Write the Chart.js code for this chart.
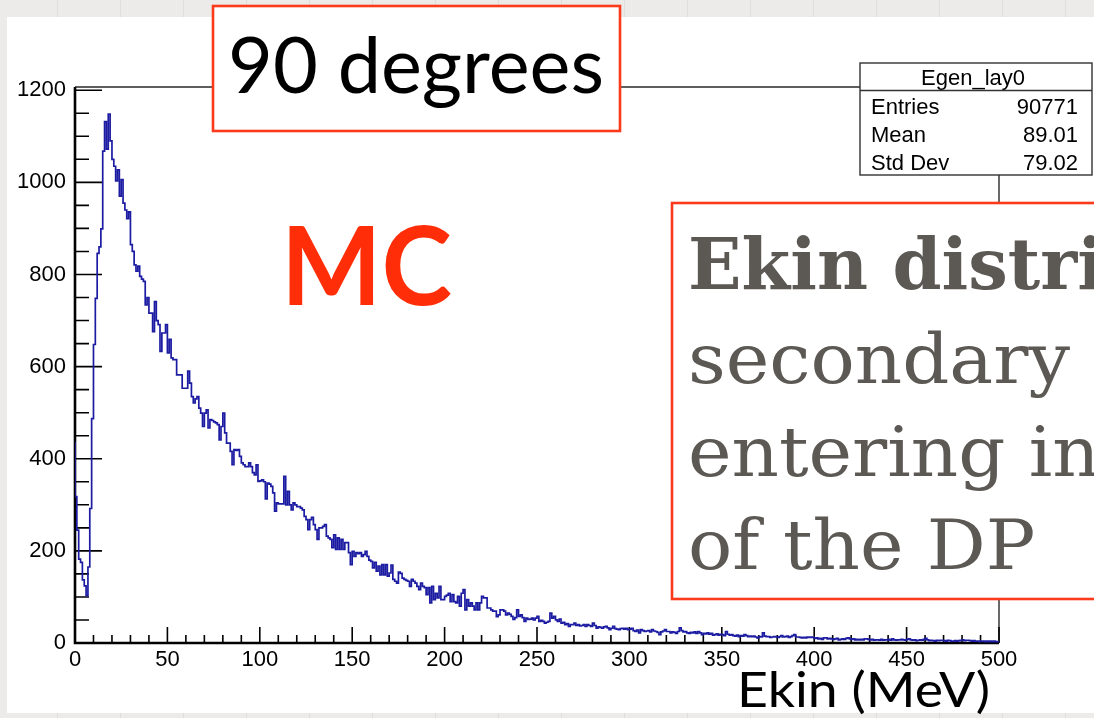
<!DOCTYPE html>
<html>
<head>
    <title>Egen_lay0</title>
    <style>
        html, body {
            margin: 0;
            padding: 0;
            background-color: #ecebe9;
        }
        canvas {
            display: block;
        }
    </style>
</head>
<body>
    <canvas id="histCanvas" width="1094" height="718"></canvas>

    <script src="https://cdn.jsdelivr.net/npm/chart.js"></script>
    <script>
        // Ekin spectrum, 1 MeV bins from 0 to 500 MeV
        const counts = [
            437, 318, 245, 182, 175, 137, 124, 103, 165, 292,
            487, 648, 748, 846, 860, 899, 1068, 1132, 1072, 1148,
            1090, 1050, 1035, 1003, 1027, 970, 1006, 955, 940, 921,
            936, 865, 850, 821, 807, 818, 796, 790, 785, 734,
            750, 716, 716, 676, 741, 700, 691, 633, 673, 673,
            691, 630, 659, 619, 615, 615, 582, 582, 582, 553,
            553, 553, 590, 564, 535, 521, 530, 535, 510, 499,
            470, 499, 506, 467, 485, 483, 480, 478, 474, 441,
            470, 499, 456, 434, 434, 416, 387, 420, 418, 420,
            405, 391, 387, 383, 383, 391, 383, 370, 365, 387,
            351, 352, 354, 350, 313, 347, 345, 340, 326, 286,
            304, 302, 302, 302, 362, 300, 329, 300, 289, 304,
            300, 296, 296, 293, 289, 275, 268, 246, 268, 273,
            257, 246, 225, 250, 250, 253, 257, 232, 228, 225,
            207, 235, 203, 228, 203, 225, 203, 218, 218, 196,
            170, 199, 188, 196, 194, 196, 188, 192, 199, 188,
            180, 177, 163, 175, 156, 167, 148, 170, 148, 170,
            145, 152, 169, 138, 134, 130, 154, 151, 141, 138,
            136, 134, 123, 138, 134, 130, 123, 116, 130, 123,
            120, 105, 120, 87, 123, 94, 108, 98, 123, 94,
            94, 101, 104, 108, 90, 105, 90, 87, 101, 80,
            108, 116, 72, 94, 80, 87, 80, 72, 87, 72,
            87, 101, 98, 98, 76, 76, 72, 69, 69, 57,
            61, 72, 72, 69, 61, 65, 62, 58, 51, 55,
            72, 58, 61, 55, 47, 54, 51, 52, 54, 50,
            54, 58, 47, 49, 47, 43, 45, 47, 65, 54,
            58, 50, 47, 52, 43, 45, 40, 42, 36, 40,
            40, 43, 38, 40, 37, 38, 40, 36, 40, 38,
            36, 43, 38, 32, 35, 34, 32, 35, 36, 33,
            29, 32, 36, 31, 30, 29, 31, 32, 30, 32,
            29, 30, 32, 27, 25, 28, 22, 29, 27, 25,
            26, 27, 24, 29, 26, 25, 23, 18, 24, 26,
            29, 25, 25, 22, 24, 23, 21, 25, 33, 27,
            24, 25, 22, 21, 23, 22, 24, 21, 25, 22,
            18, 21, 20, 22, 19, 21, 17, 18, 20, 17,
            19, 18, 16, 25, 19, 17, 18, 16, 15, 17,
            14, 16, 15, 18, 16, 14, 15, 14, 15, 13,
            11, 14, 13, 22, 15, 14, 14, 12, 13, 14,
            13, 12, 14, 16, 13, 14, 15, 12, 14, 16,
            18, 13, 13, 12, 11, 12, 11, 13, 12, 13,
            12, 10, 11, 9, 10, 8, 11, 11, 9, 10,
            9, 8, 9, 10, 7, 8, 9, 8, 10, 11,
            9, 8, 9, 7, 8, 7, 8, 7, 9, 9,
            8, 7, 8, 6, 7, 7, 6, 8, 6, 7,
            7, 8, 6, 9, 7, 6, 7, 7, 8, 7,
            6, 8, 9, 7, 6, 7, 5, 6, 7, 6,
            8, 10, 7, 5, 6, 5, 4, 6, 5, 6,
            6, 5, 4, 6, 5, 4, 4, 5, 4, 5,
            6, 7, 5, 6, 6, 5, 4, 5, 4, 4,
            3, 4, 4, 3, 4, 3, 4, 3, 4, 3
        ];
        const xMin = 0;
        const xMax = 500;
        const yMax = 1207;
        const xTicks = [0, 50, 100, 150, 200, 250, 300, 350, 400, 450, 500];
        const yTicks = [0, 200, 400, 600, 800, 1000, 1200];
        const xMinorStep = 10;
        const yMinorStep = 50;

        const histName = 'Egen_lay0';
        const statLabels = ['Entries', 'Mean', 'Std Dev'];
        const statValues = ['90771', '89.01', '79.02'];

        const RED = '#fb3a1b';

        // one point per bin low edge, plus the upper edge of the last bin
        const points = counts.map((c, i) => ({ x: xMin + i, y: c }));
        points.push({ x: xMax, y: counts[counts.length - 1] });

        // draw text stretched so that refText is targetW wide and
        // refGlyph rises targetH above the baseline
        function drawShaped(ctx, text, x, base, font, refText, targetW, refGlyph, targetH) {
            ctx.font = font;
            const w = ctx.measureText(refText).width;
            const h = ctx.measureText(refGlyph).actualBoundingBoxAscent;
            ctx.save();
            ctx.translate(x, base);
            ctx.scale(targetW / w, targetH / h);
            ctx.textAlign = 'left';
            ctx.textBaseline = 'alphabetic';
            ctx.fillText(text, 0, 0);
            ctx.restore();
        }

        const pageBackground = {
            id: 'pageBackground',
            beforeDraw(chart) {
                const ctx = chart.ctx;
                ctx.save();
                ctx.fillStyle = '#ecebe9';
                ctx.fillRect(0, 0, chart.width, chart.height);
                // faint tile joints in the margin
                ctx.strokeStyle = '#dfdedb';
                ctx.lineWidth = 1;
                ctx.beginPath();
                for (let x = 57; x < chart.width; x += 63) {
                    ctx.moveTo(x + 0.5, 0);
                    ctx.lineTo(x + 0.5, 17);
                    ctx.moveTo(x + 0.5, 713);
                    ctx.lineTo(x + 0.5, 718);
                }
                ctx.stroke();
                ctx.fillStyle = '#ffffff';
                ctx.fillRect(7, 17, chart.width - 7, 696);
                ctx.restore();
            }
        };

        const frameAndTicks = {
            id: 'frameAndTicks',
            beforeDatasetsDraw(chart) {
                const { ctx, chartArea: a, scales: { x, y } } = chart;
                ctx.save();
                // top and right sides of the frame
                ctx.strokeStyle = '#2a2a2a';
                ctx.lineWidth = 1.4;
                ctx.beginPath();
                ctx.moveTo(a.left, a.top);
                ctx.lineTo(a.right, a.top);
                ctx.lineTo(a.right, a.bottom);
                ctx.stroke();

                ctx.strokeStyle = '#000000';
                ctx.lineWidth = 1.6;
                ctx.beginPath();
                for (let v = xMin; v <= xMax; v += xMinorStep) {
                    const px = x.getPixelForValue(v);
                    const len = xTicks.includes(v) ? 16 : 8;
                    ctx.moveTo(px, a.bottom);
                    ctx.lineTo(px, a.bottom - len);
                }
                for (let v = 0; v <= yMax; v += yMinorStep) {
                    const py = y.getPixelForValue(v);
                    const len = yTicks.includes(v) ? 27 : 14;
                    ctx.moveTo(a.left, py);
                    ctx.lineTo(a.left + len, py);
                }
                ctx.stroke();

                // axis lines
                ctx.lineWidth = 2.6;
                ctx.beginPath();
                ctx.moveTo(a.left, a.top);
                ctx.lineTo(a.left, a.bottom);
                ctx.lineTo(a.right, a.bottom);
                ctx.stroke();
                ctx.restore();
            }
        };

        const annotations = {
            id: 'annotations',
            afterDraw(chart) {
                const ctx = chart.ctx;
                ctx.save();

                // stats box
                ctx.fillStyle = '#ffffff';
                ctx.fillRect(860, 63, 232, 112);
                ctx.strokeStyle = '#333333';
                ctx.lineWidth = 1.4;
                ctx.strokeRect(860, 63, 232, 112);
                ctx.beginPath();
                ctx.moveTo(860, 90.5);
                ctx.lineTo(1092, 90.5);
                ctx.stroke();
                ctx.fillStyle = '#000000';
                ctx.font = '22px "Liberation Sans", Arial, sans-serif';
                ctx.textBaseline = 'alphabetic';
                ctx.textAlign = 'center';
                ctx.fillText(histName, 973, 85);
                const rowBase = [114, 142, 170];
                statLabels.forEach((label, i) => {
                    ctx.textAlign = 'left';
                    ctx.fillText(label, 871, rowBase[i]);
                    ctx.textAlign = 'right';
                    ctx.fillText(statValues[i], 1078, rowBase[i]);
                });

                // "90 degrees" tag
                ctx.fillStyle = '#ffffff';
                ctx.fillRect(213, 6, 407, 125);
                ctx.strokeStyle = RED;
                ctx.lineWidth = 2.6;
                ctx.strokeRect(213, 6, 407, 125);
                ctx.fillStyle = '#000000';
                const sans = '100px Lato, sans-serif';
                drawShaped(ctx, '90 degrees', 228, 93, sans, '90 degrees', 376, '9', 56);

                // MC label
                ctx.fillStyle = '#ff2e08';
                drawShaped(ctx, 'MC', 281, 305, 'bold ' + sans, 'MC', 171, 'M', 79);

                // description box, running off the right edge
                ctx.fillStyle = '#ffffff';
                ctx.fillRect(672, 203, 440, 396);
                ctx.strokeStyle = RED;
                ctx.lineWidth = 2.6;
                ctx.strokeRect(672, 203, 440, 396);
                ctx.fillStyle = '#5c5955';
                const serif = '100px "DejaVu Serif", serif';
                drawShaped(ctx, 'Ekin distribution of', 688, 289, 'bold ' + serif, 'Ekin', 180, 'E', 52);
                const bodyLines = ['secondary particles', 'entering in', 'of the DP'];
                const bodyBase = [383, 476, 569];
                bodyLines.forEach((line, i) => {
                    drawShaped(ctx, line, 688, bodyBase[i], serif, 'secondary', 382, 'x', 36);
                });

                // x axis title
                ctx.fillStyle = '#000000';
                drawShaped(ctx, 'Ekin (MeV)', 737, 707, sans, 'Ekin (MeV)', 253, 'E', 35);

                ctx.restore();
            }
        };

        const tickFont = { family: '"Liberation Sans", Arial, sans-serif', size: 22 };

        new Chart(document.getElementById('histCanvas').getContext('2d'), {
            type: 'line',
            data: {
                datasets: [{
                    label: histName,
                    data: points,
                    stepped: 'after',
                    borderColor: '#1c1ca2',
                    borderWidth: 1.7,
                    pointRadius: 0,
                    fill: false,
                    tension: 0
                }]
            },
            options: {
                responsive: false,
                animation: false,
                events: [],
                layout: {
                    padding: { left: 0, top: 87, right: 95, bottom: 45 }
                },
                plugins: {
                    legend: { display: false },
                    tooltip: { enabled: false }
                },
                scales: {
                    x: {
                        type: 'linear',
                        min: xMin,
                        max: xMax,
                        afterBuildTicks: s => { s.ticks = xTicks.map(v => ({ value: v })); },
                        afterFit: s => { s.height = 30; },
                        grid: { display: false, drawTicks: false },
                        border: { display: false },
                        ticks: {
                            font: tickFont, color: '#000', padding: 4, maxRotation: 0, autoSkip: false,
                            callback: v => String(v)
                        }
                    },
                    y: {
                        type: 'linear',
                        min: 0,
                        max: yMax,
                        afterBuildTicks: s => { s.ticks = yTicks.map(v => ({ value: v })); },
                        afterFit: s => { s.width = 75; },
                        grid: { display: false, drawTicks: false },
                        border: { display: false },
                        ticks: { font: tickFont, color: '#000', padding: 9, callback: v => String(v) }
                    }
                }
            },
            plugins: [pageBackground, frameAndTicks, annotations]
        });
    </script>
</body>
</html>
